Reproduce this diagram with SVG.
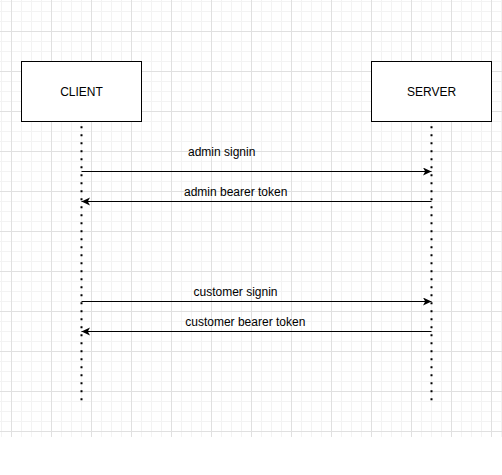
<svg xmlns="http://www.w3.org/2000/svg" width="502" height="475" viewBox="0 0 502 475">
<style>
.box{fill:#ffffff;stroke:#000000;stroke-width:1}
.lbl{font-family:"Liberation Sans",Arial,sans-serif;font-size:12px;fill:#000000;text-anchor:middle}
.life{stroke:#000000;stroke-width:2;stroke-dasharray:2 6;fill:none}
.msg{stroke:#000000;stroke-width:1;fill:none;marker-end:url(#arr)}
</style>
<defs>
<pattern id="minor" patternUnits="userSpaceOnUse" x="1" y="1" width="10" height="10">
<path d="M0 0.5H10M0.5 0V10" stroke="#f3f3f3" stroke-width="1" fill="none"/>
</pattern>
<pattern id="major" patternUnits="userSpaceOnUse" x="11" y="31" width="40" height="40">
<path d="M0 0.5H40M0.5 0V40" stroke="#e0e0e0" stroke-width="1" fill="none"/>
</pattern>
<marker id="arr" markerUnits="userSpaceOnUse" markerWidth="10" markerHeight="10" refX="8.5" refY="4" orient="auto">
<path d="M0 0L8.5 4L0 8L2.2 4Z" fill="#000000"/>
</marker>
</defs>
<rect x="0" y="0" width="502" height="475" fill="#ffffff"/>
<rect x="0" y="0" width="502" height="437" fill="url(#minor)"/>
<rect x="0" y="0" width="502" height="437" fill="url(#major)"/>
<g id="client">
<rect class="box" x="21.5" y="61.5" width="120" height="60"/>
<text class="lbl" x="81.5" y="96">CLIENT</text>
</g>
<g id="server">
<rect class="box" x="371.5" y="61.5" width="120" height="60"/>
<text class="lbl" x="431.5" y="96">SERVER</text>
</g>
<g id="connectors">
<line class="life" x1="81.5" y1="126.3" x2="81.5" y2="401"/>
<line class="life" x1="431.5" y1="126.3" x2="431.5" y2="401"/>
<line class="msg" x1="81.5" y1="171.5" x2="431.5" y2="171.5"/>
<text class="lbl" x="221.7" y="155.5">admin signin</text>
<line class="msg" x1="431.5" y1="201.5" x2="81.5" y2="201.5"/>
<text class="lbl" x="235.7" y="195.5">admin bearer token</text>
<line class="msg" x1="81.5" y1="301.5" x2="431.5" y2="301.5"/>
<text class="lbl" x="235.5" y="295.5">customer signin</text>
<line class="msg" x1="431.5" y1="331.5" x2="81.5" y2="331.5"/>
<text class="lbl" x="245.3" y="325.5">customer bearer token</text>
</g>
</svg>
